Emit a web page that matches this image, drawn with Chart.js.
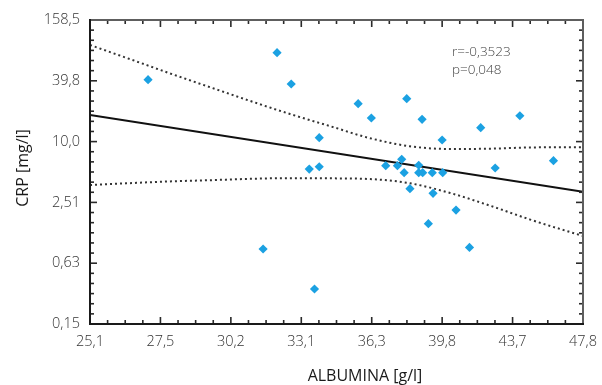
<!DOCTYPE html>
<html><head><meta charset="utf-8">
<script src="https://cdn.jsdelivr.net/npm/chart.js@4/dist/chart.umd.min.js"></script>
<style>html,body{margin:0;padding:0;background:#fff;}#wrap{width:602px;height:385px;position:relative;}</style>
</head><body><div id="wrap"><canvas id="c" width="602" height="385"></canvas></div>
<script>
// ---- data (both axes logarithmic) ----
const albumin = [27.10, 32.08, 32.68, 31.50, 33.69, 33.46, 33.90, 33.90, 35.67, 36.29, 36.98, 37.55, 37.76, 37.88, 38.01, 38.17, 38.61, 38.61, 38.81, 38.78, 39.10, 39.30, 39.34, 39.81, 39.84, 40.54, 41.26, 41.87, 42.67, 44.07, 46.05];
const crp     = [40.8, 75.4, 37.0, 0.871, 0.351, 5.36, 5.65, 10.93, 23.66, 17.10, 5.78, 5.78, 6.69, 4.93, 26.5, 3.43, 5.84, 4.93, 4.93, 16.6, 1.55, 4.93, 3.09, 10.37, 4.93, 2.11, 0.903, 13.72, 5.49, 18.0, 6.48];

const fitX = [25.12, 47.86];
const fitY = [18.30, 3.204];

const bandX     = [25.12, 26.47, 27.89, 29.39, 30.97, 32.63, 34.39, 36.23, 38.17, 40.23, 42.39, 44.67, 47.86];
const bandUpper = [89.8, 65.1, 47.1, 34.4, 25.2, 18.7, 14.2, 10.8, 8.99, 8.45, 8.51, 8.75, 8.81];
const bandLower = [3.73, 3.89, 4.05, 4.16, 4.29, 4.36, 4.34, 4.27, 3.88, 3.11, 2.33, 1.70, 1.17];

const xTickValues = [25.1189, 27.5423, 30.1995, 33.1131, 36.3078, 39.8107, 43.6516, 47.8630];
const xTickLabels = ['25,1','27,5','30,2','33,1','36,3','39,8','43,7','47,8'];
const yTickValues = [0.158489, 0.630957, 2.511886, 10, 39.810717, 158.489319];
const yTickLabels = ['0,15','0,63','2,51','10,0','39,8','158,5'];

const xTitle = 'ALBUMINA [g/l]';
const yTitle = 'CRP [mg/l]';
const statLines = ['r=-0,3523', 'p=0,048'];

const pts = albumin.map((x,i)=>({x:x, y:crp[i]}));
const fitPts = fitX.map((x,i)=>({x:x, y:fitY[i]}));
const upPts = bandX.map((x,i)=>({x:x, y:bandUpper[i]}));
const loPts = bandX.map((x,i)=>({x:x, y:bandLower[i]}));

const tickFont = {family:"'Open Sans', 'DejaVu Sans', sans-serif", size:14.5, weight:'300'};

const framePlugin = {
  id:'frame',
  afterDraw(chart){
    const ctx = chart.ctx, a = chart.chartArea;
    const xs = chart.scales.x, ys = chart.scales.y;
    const L = a.left, R = a.right, T = a.top, B = a.bottom;
    ctx.save();
    // tick marks, all pointing inward
    ctx.fillStyle = '#2a2a2a';
    const xMaj = xTickValues.map(v=>xs.getPixelForValue(v));
    const yMaj = yTickValues.map(v=>ys.getPixelForValue(v));
    for (let i=0;i<xMaj.length;i++){
      const p = xMaj[i];
      ctx.fillRect(p-0.8, B-7, 1.6, 7);
      ctx.fillRect(p-0.8, T, 1.6, 7);
      if (i<xMaj.length-1){
        for (let k=1;k<4;k++){
          const q = p + (xMaj[i+1]-p)*k/4;
          ctx.fillRect(q-0.8, B-4, 1.6, 4);
          ctx.fillRect(q-0.8, T, 1.6, 4);
        }
      }
    }
    for (let i=0;i<yMaj.length;i++){
      const p = yMaj[i];
      ctx.fillRect(L, p-0.8, 7, 1.6);
      ctx.fillRect(R-7, p-0.8, 7, 1.6);
      if (i<yMaj.length-1){
        for (let k=1;k<6;k++){
          const q = p + (yMaj[i+1]-p)*k/6;
          ctx.fillRect(L, q-0.8, 4, 1.6);
          ctx.fillRect(R-4, q-0.8, 4, 1.6);
        }
      }
    }
    // frame: top/right grey, left/bottom dark
    ctx.fillStyle = '#5e5e5e';
    ctx.fillRect(L-1, T-1, R-L+2, 2);
    ctx.fillRect(R-1, T-1, 2, B-T+2);
    ctx.fillStyle = '#1a1a1a';
    ctx.fillRect(L-1, T-1, 2, B-T+2);
    ctx.fillRect(L-1, B-1, R-L+2, 2);
    // axis titles
    ctx.fillStyle = '#1a1a1a';
    ctx.font = "400 16px 'Open Sans', 'DejaVu Sans', sans-serif";
    ctx.textAlign = 'center';
    ctx.textBaseline = 'alphabetic';
    ctx.fillText(xTitle, 365, 381);
    ctx.save();
    ctx.translate(28, 168);
    ctx.rotate(-Math.PI/2);
    ctx.fillText(yTitle, 0, 0);
    ctx.restore();
    // statistics
    ctx.fillStyle = '#444';
    ctx.font = "300 13.5px 'Open Sans', 'DejaVu Sans', sans-serif";
    ctx.textAlign = 'left';
    ctx.fillText(statLines[0], 452, 55.5);
    ctx.fillText(statLines[1], 452, 74);
    ctx.restore();
  }
};

new Chart(document.getElementById('c'), {
  type:'scatter',
  data:{ datasets:[
    {data:pts, pointStyle:'rectRot', pointRadius:4.6, backgroundColor:'#1ba1e2', borderColor:'#1ba1e2', borderWidth:0, showLine:false},
    {data:fitPts, showLine:true, pointRadius:0, borderColor:'#111', borderWidth:2, tension:0},
    {data:upPts, showLine:true, pointRadius:0, borderColor:'#333', borderWidth:2, borderDash:[2,3], cubicInterpolationMode:'monotone'},
    {data:loPts, showLine:true, pointRadius:0, borderColor:'#333', borderWidth:2, borderDash:[2,3], cubicInterpolationMode:'monotone'}
  ]},
  options:{
    responsive:false, animation:false, devicePixelRatio:1,
    layout:{padding:{left:0, top:20, right:19, bottom:0}},
    plugins:{legend:{display:false}, tooltip:{enabled:false}},
    scales:{
      x:{type:'logarithmic', min:Math.pow(10,1.4), max:Math.pow(10,1.68),
         grid:{display:false, drawTicks:false}, border:{display:false},
         ticks:{padding:9, font:tickFont, color:'#333', autoSkip:false, maxRotation:0,
                callback:(v,i)=>xTickLabels[i]},
         afterBuildTicks:s=>{ s.ticks = xTickValues.map(v=>({value:v})); },
         afterFit:s=>{ s.height = 61; s.paddingLeft = 0; s.paddingRight = 0; }},
      y:{type:'logarithmic', min:Math.pow(10,-0.8), max:Math.pow(10,2.2),
         grid:{display:false, drawTicks:false}, border:{display:false},
         ticks:{padding:10, font:tickFont, color:'#333', autoSkip:false,
                callback:(v,i)=>yTickLabels[i]},
         afterBuildTicks:s=>{ s.ticks = yTickValues.map(v=>({value:v})); },
         afterFit:s=>{ s.width = 90; s.paddingTop = 0; s.paddingBottom = 0; }}
    }
  },
  plugins:[framePlugin]
});
</script></body></html>
